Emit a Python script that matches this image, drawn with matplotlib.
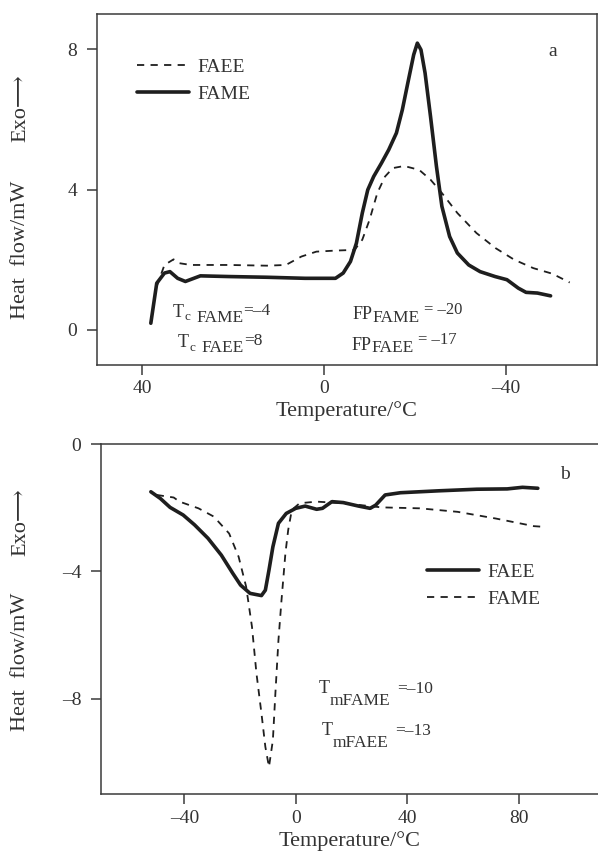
import matplotlib
matplotlib.use("Agg")
import matplotlib.pyplot as plt

plt.rcParams['font.family'] = ['Liberation Serif', 'DejaVu Serif', 'DejaVu Sans']

# panel a: cooling scan (temperature in C, heat flow in mW)
a_fame_t = [38.1, 36.8, 35.1, 33.9, 32.2, 30.5, 27.2, 20.9, 12.6, 4.2, -2.5, -4.2, -5.8,
            -7.1, -8.4, -9.6, -10.9, -12.6, -14.2, -15.9, -17.2, -18.4, -19.7, -20.5,
            -21.3, -22.2, -23.4, -24.7, -25.9, -27.6, -29.3, -31.8, -34.3, -37.6, -40.2,
            -42.7, -44.4, -46.9, -49.8]
a_fame_q = [0.19, 1.33, 1.62, 1.66, 1.47, 1.38, 1.54, 1.52, 1.50, 1.47, 1.47, 1.62, 1.95,
            2.47, 3.33, 3.99, 4.37, 4.75, 5.13, 5.61, 6.27, 7.03, 7.84, 8.17,
            7.98, 7.32, 6.08, 4.66, 3.52, 2.66, 2.19, 1.85, 1.66, 1.52, 1.43,
            1.19, 1.07, 1.05, 0.97]
a_faee_t = [36.8, 35.1, 33.1, 31.8, 29.3, 20.9, 12.6, 8.4, 5.0, 1.7, -2.5, -6.7, -8.4,
            -10.0, -11.7, -13.4, -15.1, -17.6, -20.9, -23.4, -25.9, -29.3, -33.5,
            -37.7, -41.8, -46.0, -50.2, -54.0]
a_faee_q = [1.24, 1.85, 2.01, 1.90, 1.85, 1.85, 1.83, 1.85, 2.09, 2.23, 2.26, 2.28, 2.57,
            3.14, 3.90, 4.37, 4.61, 4.67, 4.56, 4.28, 3.90, 3.33, 2.76,
            2.33, 2.00, 1.76, 1.60, 1.35]

# panel b: heating scan
b_faee_t = [-52.0, -48.6, -45.1, -40.4, -36.3, -31.5, -26.7, -22.6, -19.8, -16.4, -12.3,
            -10.9, -9.6, -8.2, -6.2, -3.4, 0.0, 3.4, 7.5, 9.6, 13.0, 17.1, 22.6, 26.7,
            28.7, 32.1, 37.6, 51.3, 65.0, 75.9, 81.4, 86.9]
b_faee_q = [-1.50, -1.71, -1.99, -2.23, -2.54, -2.96, -3.49, -4.06, -4.43, -4.69, -4.76,
            -4.59, -3.96, -3.23, -2.49, -2.18, -2.02, -1.95, -2.05, -2.02, -1.81, -1.84,
            -1.95, -2.02, -1.92, -1.60, -1.53, -1.47, -1.42, -1.41, -1.36, -1.39]
b_fame_t = [-49.9, -43.8, -41.7, -34.9, -29.4, -23.9, -20.5, -17.8, -15.7, -14.1, -12.3,
            -10.9, -9.6, -8.2, -7.3, -6.2, -5.1, -3.7, -2.7, -1.4, 1.4, 7.5, 17.1, 30.8,
            44.5, 58.1, 71.8, 85.5, 88.9]
b_fame_q = [-1.60, -1.68, -1.81, -2.02, -2.28, -2.81, -3.54, -4.48, -5.74, -7.20, -8.46,
            -9.51, -10.14, -9.30, -7.83, -6.16, -4.90, -3.43, -2.70, -2.07, -1.86, -1.81,
            -1.86, -1.99, -2.02, -2.13, -2.34, -2.58, -2.60]

a_xticks = [40, 0, -40]
a_xlabels = ['40', '0', '–40']
a_yticks = [0, 4, 8]
b_xticks = [-40, 0, 40, 80]
b_xlabels = ['–40', '0', '40', '80']
b_yticks = [-8, -4, 0]
b_ylabels = ['–8', '–4', '0']

ink = '#1e1e1e'
frame = '#3a3a3a'
txt = '#333333'
dash = (0, (4, 3.5))


def chain_text(ax, x, y, pieces):
    # pieces: (string, fontsize, dx, dy) - offsets in points from the previous piece
    prev = ax.text(x, y, pieces[0][0], fontsize=pieces[0][1], color=txt, va='baseline')
    for s, fs, dx, dy in pieces[1:]:
        prev = ax.annotate(s, xy=(1, 0), xycoords=prev, xytext=(dx, dy),
                           textcoords='offset points', fontsize=fs, color=txt,
                           ha='left', va='bottom')


fig = plt.figure(figsize=(5.98, 8.55), dpi=100)
ax1 = fig.add_axes([0.1617, 0.5731, 0.8366, 0.4105])
ax2 = fig.add_axes([0.1684, 0.0710, 0.8316, 0.4097])

# ---- panel a
ax1.plot(a_faee_t, a_faee_q, color=ink, lw=1.3, linestyle=dash, label='FAEE')
ax1.plot(a_fame_t, a_fame_q, color=ink, lw=2.6, solid_capstyle='round', label='FAME')
ax1.set_xlim(50, -60)
ax1.set_ylim(-1, 9)
ax1.set_xticks(a_xticks)
ax1.set_xticklabels(a_xlabels)
ax1.set_yticks(a_yticks)
ax1.text(-50.2, 7.93, 'a', fontsize=14, ha='center', va='center', color=txt)
chain_text(ax1, 33.3, 0.38, [('T', 13), ('c', 9.5, 0.3, -2.0), ('FAME', 12.5, 4.5, -1.6),
                             ('=–4', 12.5, 0, 4.8)])
chain_text(ax1, 32.1, -0.48, [('T', 13), ('c', 9.5, 0.3, -2.0), ('FAEE', 12.5, 4.5, -1.6),
                              ('=8', 12.5, 0, 4.8)])
chain_text(ax1, -6.3, 0.30, [('FP', 13), ('FAME', 12.5, 0, -1.7), ('= –20', 12, 3, 5.8)])
chain_text(ax1, -6.0, -0.56, [('FP', 13), ('FAEE', 12.5, 0, -1.7), ('= –17', 12, 3, 5.8)])
ax1.legend(loc='upper left', bbox_to_anchor=(0.08, 0.875), frameon=False, fontsize=14,
           handlelength=2.7, handletextpad=0.4, labelspacing=0.5, borderpad=0,
           borderaxespad=0, labelcolor=txt)

# ---- panel b
ax2.plot(b_faee_t, b_faee_q, color=ink, lw=2.6, solid_capstyle='round', label='FAEE')
ax2.plot(b_fame_t, b_fame_q, color=ink, lw=1.3, linestyle=dash, label='FAME')
ax2.set_xlim(-70, 108.5)
ax2.set_ylim(-11, 0)
ax2.set_xticks(b_xticks)
ax2.set_xticklabels(b_xlabels)
ax2.set_yticks(b_yticks)
ax2.set_yticklabels(b_ylabels)
ax2.spines['right'].set_visible(False)
ax2.text(96.6, -0.97, 'b', fontsize=14, ha='center', va='center', color=txt)
chain_text(ax2, 8.4, -7.82, [('T', 13), ('mFAME', 12.5, 0, -8.4), ('=–10', 12.5, 4.8, 8.4)])
chain_text(ax2, 9.2, -9.15, [('T', 13), ('mFAEE', 12.5, 0, -8.4), ('=–13', 12.5, 4.8, 8.4)])
ax2.legend(loc='upper left', bbox_to_anchor=(0.656, 0.66), frameon=False, fontsize=14,
           handlelength=2.7, handletextpad=0.4, labelspacing=0.5, borderpad=0,
           borderaxespad=0, labelcolor=txt)

for ax in (ax1, ax2):
    for sp in ax.spines.values():
        sp.set_color(frame)
        sp.set_linewidth(1.1)
    ax.tick_params(direction='out', length=7, width=1.1, color=frame,
                   labelsize=14, labelcolor=txt, top=False, right=False)
    ax.tick_params(axis='x', pad=4)
    ax.tick_params(axis='y', pad=7)
    ax.set_xlabel('Temperature/°C', fontsize=16, color=txt, labelpad=3)

# y labels drawn as figure text, split like the original
for yc_heat, yc_exo in ((0.7076, 0.874), (0.226, 0.389)):
    fig.text(0.035, yc_heat, 'Heat  flow/mW', rotation=90, fontsize=16,
             ha='center', va='center', color=txt)
    fig.text(0.035, yc_exo, 'Exo⟶', rotation=90, fontsize=16,
             ha='center', va='center', color=txt)

fig.savefig('out.png', dpi=100)
